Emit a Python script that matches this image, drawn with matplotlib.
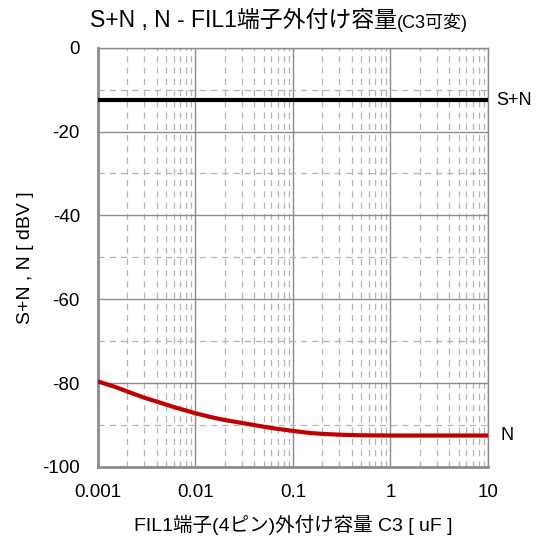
import matplotlib
matplotlib.use('Agg')
import matplotlib.pyplot as plt
from matplotlib import ticker

plt.rcParams['font.family'] = ['Liberation Sans', 'Noto Sans CJK JP', 'DejaVu Sans']
plt.rcParams['axes.unicode_minus'] = False

# C3 sweep [uF] and measured levels [dBV]
c3_uF = [0.001, 0.0015, 0.002, 0.003, 0.004, 0.006, 0.01, 0.015, 0.02, 0.03,
         0.04, 0.06, 0.1, 0.15, 0.2, 0.3, 0.5, 1, 2, 5, 10]
n_dbv = [-79.6, -80.9, -82.0, -83.5, -84.4, -85.7, -87.2, -88.2, -88.8, -89.5,
         -90.0, -90.7, -91.4, -91.9, -92.1, -92.3, -92.45, -92.5, -92.5, -92.5, -92.5]
sn_c3 = [0.001, 10]
sn_dbv = [-12.5, -12.5]

yticks = [0, -20, -40, -60, -80, -100]
xticks = [0.001, 0.01, 0.1, 1, 10]
xticklabels = ['0.001', '0.01', '0.1', '1', '10']

fig = plt.figure(figsize=(5.41, 5.38), dpi=100)
ax = fig.add_axes([0.1811, 0.132, 0.7209, 0.7794])

ax.set_xscale('log')
ax.set_xlim(0.001, 10)
ax.set_ylim(-100, 0)

ax.plot(sn_c3, sn_dbv, color='black', lw=3, solid_capstyle='butt', zorder=3)
ax.plot(c3_uF, n_dbv, color='#c00000', lw=3, solid_capstyle='butt',
        solid_joinstyle='round', zorder=3)

ax.annotate('S+N', (sn_c3[-1], sn_dbv[-1]), xytext=(6, 0), textcoords='offset points',
            va='center', ha='left', fontsize=13, annotation_clip=False)
ax.annotate('N', (c3_uF[-1], n_dbv[-1]), xytext=(9, 0), textcoords='offset points',
            va='center', ha='left', fontsize=13, annotation_clip=False)

ax.set_xticks(xticks)
ax.set_xticklabels(xticklabels)
ax.xaxis.set_minor_locator(ticker.LogLocator(base=10, subs=range(2, 10)))
ax.xaxis.set_minor_formatter(ticker.NullFormatter())
ax.set_yticks(yticks)
ax.yaxis.set_minor_locator(ticker.MultipleLocator(10))

ax.grid(True, which='major', color='#8c8c8c', lw=1, ls='-')
ax.grid(True, which='minor', color='#b4b4b4', lw=0.9, ls=(0, (5, 4)))
ax.set_axisbelow(True)

ax.tick_params(which='both', length=0, labelsize=13.5)
ax.tick_params(axis='y', pad=13)
ax.tick_params(axis='x', pad=12)

for side in ['left', 'bottom']:
    ax.spines[side].set_color('#8c8c8c')
    ax.spines[side].set_linewidth(2)
for side in ['top', 'right']:
    ax.spines[side].set_color('#8c8c8c')
    ax.spines[side].set_linewidth(1)

ax.set_xlabel('FIL1端子(4ピン)外付け容量 C3 [ uF ]', fontsize=14, va='center')
ax.set_ylabel('S+N , N [ dBV ]', fontsize=14, va='center')
ax.xaxis.set_label_coords(0.5, -0.138)
ax.yaxis.set_label_coords(-0.187, 0.5)

# title in two sizes
t1 = fig.text(0.166, 0.962, 'S+N , N - FIL1端子外付け容量', fontsize=16.5, va='center', ha='left')
fig.canvas.draw()
ax.annotate('(C3可変)', xy=(1, 0), xycoords=t1, xytext=(0, 0), textcoords='offset points',
            fontsize=13, va='bottom', ha='left')

fig.savefig('out.png', dpi=100)
